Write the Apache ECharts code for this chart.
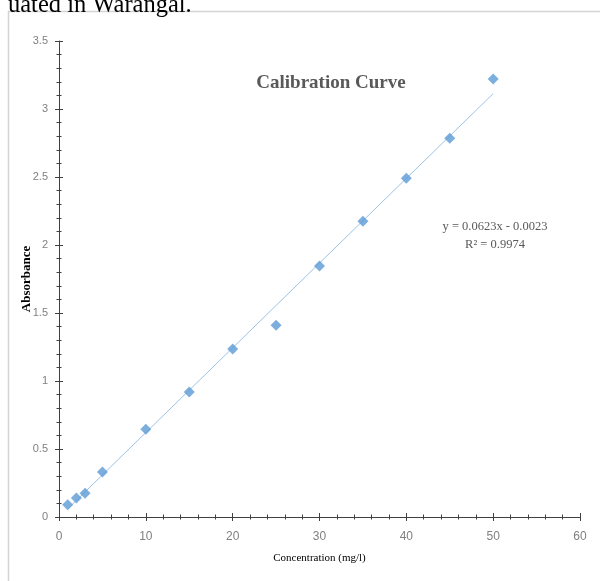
<!DOCTYPE html>
<html>
<head>
<meta charset="utf-8">
<style>html,body{margin:0;padding:0;background:#fff;}#c{width:600px;height:581px;}</style>
<script src="https://cdn.jsdelivr.net/npm/echarts@6/dist/echarts.min.js"></script>
</head>
<body>
<div id="c"></div>
<script>
// Data
const concentration = [1, 2, 3, 5, 10, 15, 20, 25, 30, 35, 40, 45, 50];
const absorbance = [0.09, 0.14, 0.175, 0.33, 0.645, 0.92, 1.235, 1.41, 1.845, 2.175, 2.49, 2.785, 3.22];
const trendX = [1, 50];
const trendY = [0.060, 3.113];
const titleText = 'Calibration Curve';
const equationLines = ['y = 0.0623x - 0.0023', 'R\u00b2 = 0.9974'];
const xName = 'Concentration (mg/l)';
const yName = 'Absorbance';
const topText = 'uated in Warangal.';

const chart = echarts.init(document.getElementById('c'), null, {renderer: 'canvas'});
const axisColor = '#404040';
const labelColor = '#808080';

function xAxisBase(extra) {
  return Object.assign({
    type: 'value', min: 0, max: 60, interval: 10, position: 'bottom',
    splitLine: {show: false},
    axisLine: {show: true, onZero: false, lineStyle: {color: axisColor, width: 1}},
    axisTick: {show: true, length: 4, lineStyle: {color: axisColor}},
    minorTick: {show: true, splitNumber: 5, length: 2.5, lineStyle: {color: axisColor}},
    axisLabel: {color: labelColor, fontFamily: 'Liberation Sans', fontSize: 12, margin: 14}
  }, extra);
}
function yAxisBase(extra) {
  return Object.assign({
    type: 'value', min: 0, max: 3.5, interval: 0.5, position: 'left',
    splitLine: {show: false},
    axisLine: {show: true, onZero: false, lineStyle: {color: axisColor, width: 1}},
    axisTick: {show: true, length: 4, lineStyle: {color: axisColor}},
    minorTick: {show: true, splitNumber: 5, length: 2.5, lineStyle: {color: axisColor}},
    axisLabel: {color: labelColor, fontFamily: 'Liberation Sans', fontSize: 11, margin: 11}
  }, extra);
}

const option = {
  animation: false,
  backgroundColor: '#fff',
  grid: {left: 59, right: 20, top: 41, bottom: 64, containLabel: false},
  xAxis: [
    xAxisBase({
      name: xName, nameLocation: 'middle', nameGap: 36, nameMoveOverlap: false,
      nameTextStyle: {fontFamily: 'Liberation Serif', fontSize: 11, color: '#000'}
    }),
    xAxisBase({
      axisLine: {show: false},
      axisLabel: {show: false},
      axisTick: {show: true, inside: true, length: 4, lineStyle: {color: axisColor}}
    })
  ],
  yAxis: [
    yAxisBase({
      name: yName, nameLocation: 'middle', nameGap: 26, nameMoveOverlap: false,
      nameTextStyle: {fontFamily: 'Liberation Serif', fontWeight: 'bold', fontSize: 13, color: '#000'}
    }),
    yAxisBase({
      axisLine: {show: false},
      axisLabel: {show: false},
      axisTick: {show: true, inside: true, length: 4, lineStyle: {color: axisColor}}
    })
  ],
  series: [
    {
      type: 'line', xAxisIndex: 0, yAxisIndex: 0,
      data: trendX.map((x, i) => [x, trendY[i]]),
      symbol: 'none', lineStyle: {color: '#9dc3e6', width: 1}, z: 2, silent: true
    },
    {
      type: 'scatter', xAxisIndex: 0, yAxisIndex: 0,
      data: concentration.map((x, i) => [x, absorbance[i]]),
      symbol: 'diamond', symbolSize: 11,
      itemStyle: {color: '#5b9bd5'}, z: 3
    }
  ],
  graphic: [
    {
      type: 'rect', silent: true, z: -1,
      shape: {x: 8.5, y: 11.5, width: 700, height: 700},
      style: {fill: 'none', stroke: '#d4d4d4', lineWidth: 1.5}
    },
    {
      type: 'text', silent: true,
      style: {x: 8, y: 6, text: topText, font: '24.5px "Liberation Serif"', fill: '#000', verticalAlign: 'middle', align: 'left'}
    },
    {
      type: 'text', silent: true,
      style: {x: 331, y: 83, text: titleText, font: 'bold 19px "Liberation Serif"', fill: '#595959', verticalAlign: 'middle', align: 'center'}
    },
    {
      type: 'text', silent: true,
      style: {x: 495, y: 227, text: equationLines[0], font: '12.5px "Liberation Serif"', fill: '#595959', verticalAlign: 'middle', align: 'center'}
    },
    {
      type: 'text', silent: true,
      style: {x: 495, y: 245, text: equationLines[1], font: '12.5px "Liberation Serif"', fill: '#595959', verticalAlign: 'middle', align: 'center'}
    }
  ]
};
chart.setOption(option);
</script>
</body>
</html>
